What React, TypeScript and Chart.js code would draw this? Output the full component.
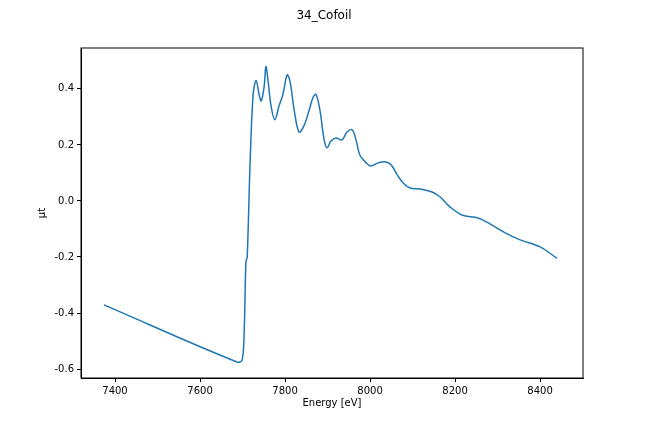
import React, { useEffect, useRef } from "react";
import { Chart, registerables } from "chart.js";
Chart.register(...registerables);

const energy = [7374,7687,7699,7704,7708,7711,7718,7725,7732,7739,7744,7751,7755,7760,7767,7776,7786,7795,7805,7812,7821,7833,7845,7856,7866,7873,7882,7892,7899,7908,7920,7934,7946,7958,7967,7976,7991,8002,8019,8035,8049,8064,8078,8094,8118,8146,8165,8188,8216,8254,8282,8318,8353,8400,8440];
const mut = [-0.371,-0.575,-0.568,-0.46,-0.218,-0.20,0.146,0.38,0.43,0.38,0.357,0.41,0.48,0.43,0.34,0.29,0.34,0.38,0.45,0.425,0.33,0.246,0.27,0.32,0.37,0.38,0.325,0.218,0.19,0.214,0.225,0.218,0.246,0.254,0.218,0.164,0.136,0.125,0.136,0.14,0.13,0.093,0.064,0.046,0.043,0.032,0.014,-0.021,-0.05,-0.061,-0.082,-0.114,-0.139,-0.164,-0.205];
const xTicks = [7400,7600,7800,8000,8200,8400];
const yTicks = [-0.6,-0.4,-0.2,0,0.2,0.4];
const title = "34_Cofoil";
const xLabel = "Energy [eV]";
const yLabel = "μt";

export default function App() {
  const ref = useRef<HTMLCanvasElement>(null);
  useEffect(() => {
    const font = "'DejaVu Sans', sans-serif";
    const frame = {
      id: "frame",
      afterDraw(c: any) {
        const { ctx, chartArea: a } = c;
        ctx.save();
        ctx.strokeStyle = "#000";
        ctx.lineWidth = 1;
        ctx.strokeRect(a.left, a.top, a.right - a.left, a.bottom - a.top);
        ctx.fillStyle = "#000";
        ctx.textAlign = "center";
        ctx.textBaseline = "middle";
        ctx.font = `12px ${font}`;
        ctx.fillText(title, 324, 16);
        ctx.font = `10px ${font}`;
        ctx.fillText(xLabel, (a.left + a.right) / 2, 403);
        ctx.translate(42, (a.top + a.bottom) / 2);
        ctx.rotate(-Math.PI / 2);
        ctx.fillText(yLabel, 0, 0);
        ctx.restore();
      },
    };
    const chart = new Chart(ref.current!, {
      type: "scatter",
      data: {
        datasets: [{
          data: energy.map((x, i) => ({ x, y: mut[i] })),
          showLine: true, borderColor: "#1f77b4", borderWidth: 1.5,
          pointRadius: 0, tension: 0.35,
        }],
      },
      options: {
        animation: false, responsive: false,
        layout: { padding: { top: 48, right: 65, left: 0, bottom: 0 } },
        plugins: { legend: { display: false }, tooltip: { enabled: false } },
        scales: {
          x: {
            min: 7320, max: 8501,
            afterFit(s: any) { s.height = 54; },
            afterBuildTicks(s: any) { s.ticks = xTicks.map(v => ({ value: v })); },
            grid: { drawOnChartArea: false, tickLength: 4, color: "#000" },
            border: { color: "#000" },
            ticks: { color: "#000", font: { family: font, size: 10 }, maxRotation: 0, callback: (v: any) => String(v) },
          },
          y: {
            min: -0.632, max: 0.546,
            afterFit(s: any) { s.width = 81; },
            afterBuildTicks(s: any) { s.ticks = yTicks.map(v => ({ value: v })); },
            grid: { drawOnChartArea: false, tickLength: 4, color: "#000" },
            border: { color: "#000" },
            ticks: { color: "#000", font: { family: font, size: 10 }, callback: (v: any) => Number(v).toFixed(1) },
          },
        },
      },
      plugins: [frame],
    });
    return () => chart.destroy();
  }, []);
  return (
    <div style={{ position: "fixed", left: 0, top: 0, width: 648, height: 432, background: "#fff" }}>
      <canvas ref={ref} width={648} height={432} />
    </div>
  );
}
